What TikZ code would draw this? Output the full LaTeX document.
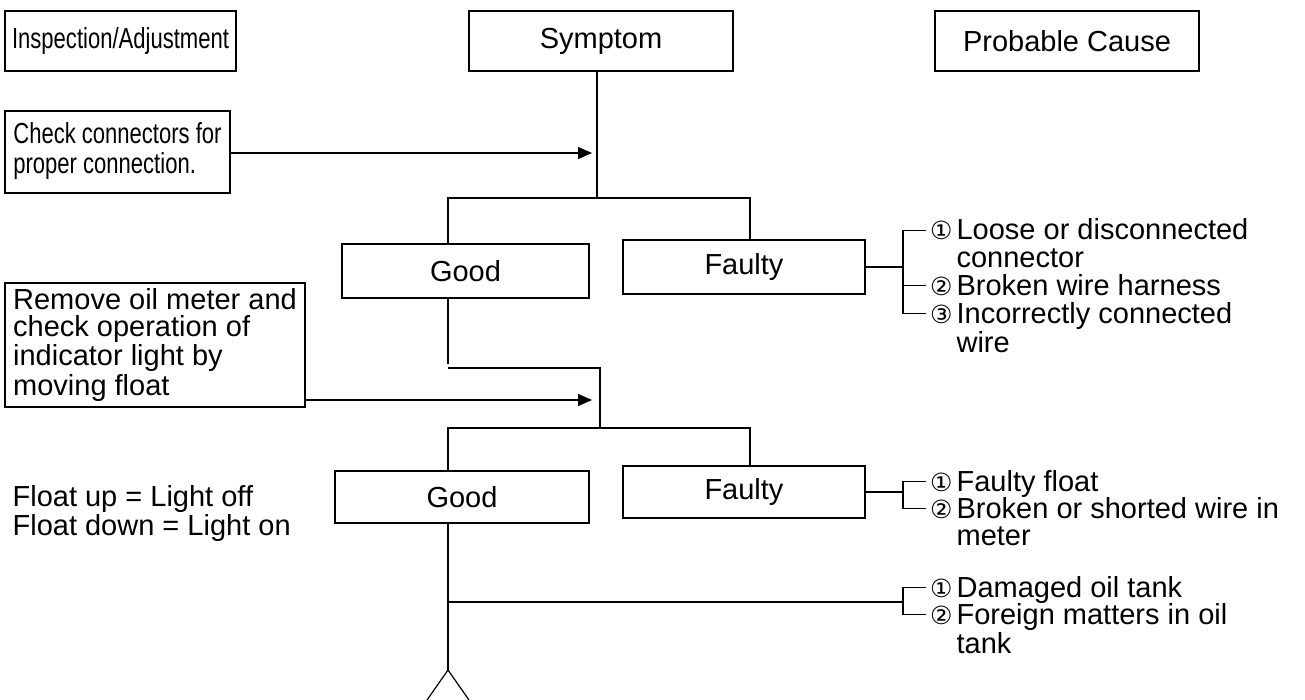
\documentclass[tikz,border=0pt]{standalone}
\usepackage{graphicx}
\usepackage{fontspec}
\setmainfont{Liberation Sans}
\newfontfamily\circfont{DejaVu Sans}
\usetikzlibrary{arrows.meta}

\newcommand{\narrow}[1]{\scalebox{0.76}[1]{#1}}
\newcommand{\twolines}[2]{\vtop{\hbox{#1}\hbox{#2}}}

\tikzset{
  box/.style={draw, line width=0.6pt, inner sep=0pt},
  lbox/.style={box, inner xsep=3.5pt, align=left},
  item/.style={inner sep=0pt},
  num/.style={inner sep=1.5pt, font=\circfont\fontsize{12.5}{12.5}\selectfont},
  arr/.style={-{Triangle[length=7pt,width=6pt]}},
}

\begin{document}
\begin{tikzpicture}[x=0.5pt,y=-0.5pt,line width=0.6pt,font=\fontsize{14.5}{13.5}\selectfont]
\useasboundingbox (0,0) rectangle (1305,700);

% headings
\node[box, minimum width=115.5pt, minimum height=30pt] (insp) at (120.5,41) {\narrow{Inspection/Adjustment}};
\node[box, minimum width=132pt, minimum height=30pt] (symp) at (601,41) {Symptom};
\node[box, minimum width=132pt, minimum height=30pt] (cause) at (1067,41) {Probable Cause};

% first check
\node[box, minimum width=112.5pt, minimum height=41pt] (check) at (117.5,152)
  {\narrow{\begin{tabular}{@{}l@{}}Check connectors for\\proper connection.\end{tabular}}};
\node[box, minimum width=123.5pt, minimum height=27pt] (good1) at (465.5,271) {Good};
\node[box, minimum width=121pt, minimum height=27pt] (faulty1) at (744,267) {Faulty};

\coordinate (j1) at (597,198);
\coordinate (g1) at (448,198);
\coordinate (f1) at (750,198);
\coordinate (a1) at (592,153);
\draw (j1 |- symp.south) -- (j1);
\draw (g1 |- good1.north) -- (g1) -- (f1) -- (f1 |- faulty1.north);
\draw[arr] (check.east |- a1) -- (a1);

% causes 1
\node[item, anchor=base west] (t11) at (956,240) {\twolines{Loose or disconnected}{connector}};
\node[item, anchor=base west] (t12) at (956,295) {Broken wire harness};
\node[item, anchor=base west] (t13) at (956,323) {\twolines{Incorrectly connected}{wire}};
\node[num, anchor=base east] (n11) at (t11.base west) {①};
\node[num, anchor=base east] (n12) at (t12.base west) {②};
\node[num, anchor=base east] (n13) at (t13.base west) {③};
\coordinate (k1) at (903,268);
\draw (faulty1.east) -- (faulty1.east -| k1);
\draw (n11.west) -- (n11.west -| k1) -- (n13.west -| k1) -- (n13.west);
\draw (n12.west) -- (n12.west -| k1);

% second check
\node[lbox, minimum width=150pt, minimum height=62pt] (remove) at (155,345)
  {Remove oil meter and\\check operation of\\indicator light by\\moving float};
\node[box, minimum width=127pt, minimum height=26pt] (good2) at (462,497) {Good};
\node[box, minimum width=121pt, minimum height=26pt] (faulty2) at (744,492) {Faulty};
\node[item, anchor=base west] (float) at (12,506) {\twolines{Float up = Light off}{Float down = Light on}};

\coordinate (g1b) at (448,364);
\coordinate (j2) at (600,368);
\coordinate (j3) at (600,428);
\coordinate (g2) at (448,428);
\coordinate (f2) at (750,428);
\coordinate (a2) at (592,400);
\draw (g1 |- good1.south) -- (g1b);
\draw (j2 -| g1) -- (j2) -- (j3);
\draw (g2 |- good2.north) -- (g2) -- (f2) -- (f2 |- faulty2.north);
\draw[arr] (remove.east |- a2) -- (a2);

% causes 2
\node[item, anchor=base west] (t21) at (956,491) {Faulty float};
\node[item, anchor=base west] (t22) at (956,518) {\twolines{Broken or shorted wire in}{meter}};
\node[num, anchor=base east] (n21) at (t21.base west) {①};
\node[num, anchor=base east] (n22) at (t22.base west) {②};
\coordinate (k2) at (903,495);
\draw (faulty2.east) -- (faulty2.east -| k2);
\draw (n21.west) -- (n21.west -| k2) -- (n22.west -| k2) -- (n22.west);

% tank
\coordinate (g3) at (448,670);
\coordinate (k3) at (903,602);
\draw (g2 |- good2.south) -- (g3);
\draw (g3 |- k3) -- (k3);
\draw (427,700) -- (g3) -- (469,700);
\node[item, anchor=base west] (t31) at (956,597) {Damaged oil tank};
\node[item, anchor=base west] (t32) at (956,624) {\twolines{Foreign matters in oil}{tank}};
\node[num, anchor=base east] (n31) at (t31.base west) {①};
\node[num, anchor=base east] (n32) at (t32.base west) {②};
\draw (n31.west) -- (n31.west -| k3) -- (n32.west -| k3) -- (n32.west);

\end{tikzpicture}
\end{document}
